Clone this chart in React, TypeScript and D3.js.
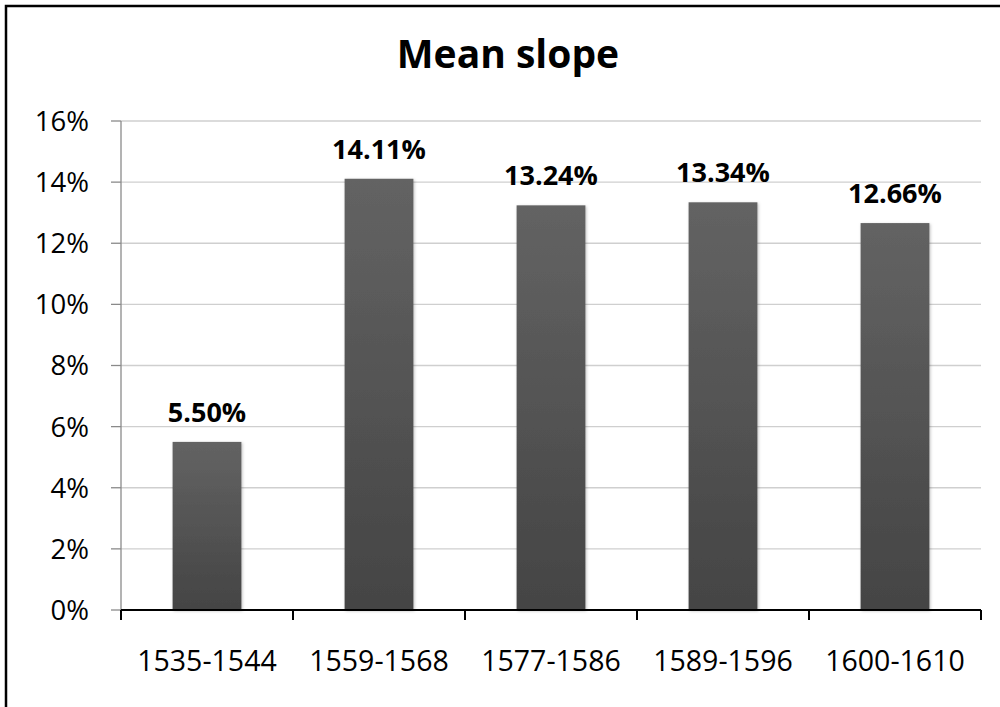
import React from "react";
import * as d3 from "d3";

const categories = ["1535-1544", "1559-1568", "1577-1586", "1589-1596", "1600-1610"];
const values = [5.5, 14.11, 13.24, 13.34, 12.66];
const yTicks = [0, 2, 4, 6, 8, 10, 12, 14, 16];
const title = "Mean slope";

const W = 1000;
const H = 707;
const M = { left: 121, right: 981, top: 121, bottom: 610 };
const FONT = "'Open Sans', 'DejaVu Sans', sans-serif";

export default function App() {
  const x = d3
    .scaleBand<string>()
    .domain(categories)
    .range([M.left, M.right])
    .paddingInner(0.6)
    .paddingOuter(0.3);
  const y = d3.scaleLinear().domain([0, 16]).range([M.bottom, M.top]);
  const boundaries = d3.range(categories.length + 1).map((i) => M.left + i * (M.right - M.left) / categories.length);

  return (
    <svg
      width={W}
      height={H}
      viewBox={`0 0 ${W} ${H}`}
      style={{ position: "absolute", left: 0, top: 0, background: "#fff" }}
    >
      <defs>
        <linearGradient id="barGrad" x1="0" y1="0" x2="0" y2="1">
          <stop offset="0%" stopColor="#636363" />
          <stop offset="100%" stopColor="#444444" />
        </linearGradient>
        <filter id="shadow" x="-20%" y="-5%" width="140%" height="110%">
          <feDropShadow dx="1" dy="1" stdDeviation="1.5" floodColor="#000" floodOpacity="0.25" />
        </filter>
      </defs>
      <rect x={0} y={0} width={W} height={H} fill="#fff" />
      <rect x={6} y={6} width={1200} height={900} fill="none" stroke="#000" strokeWidth={2.5} />

      <text
        x={508}
        y={68}
        textAnchor="middle"
        fontFamily={FONT}
        fontWeight="bold"
        fontSize={39}
        fill="#000"
      >
        {title}
      </text>

      {/* gridlines */}
      {yTicks.filter((t) => t > 0).map((t) => (
        <line key={`g${t}`} x1={M.left} x2={M.right} y1={y(t)} y2={y(t)} stroke="#cfcfcf" strokeWidth={1.3} />
      ))}

      {/* y axis */}
      <line x1={M.left} x2={M.left} y1={M.top} y2={M.bottom} stroke="#8a8a8a" strokeWidth={1.3} />
      {yTicks.map((t) => (
        <g key={`yt${t}`}>
          <line x1={M.left - 10} x2={M.left} y1={y(t)} y2={y(t)} stroke="#8a8a8a" strokeWidth={1.3} />
          <text
            x={89}
            y={y(t)}
            dy="0.36em"
            textAnchor="end"
            fontFamily={FONT}
            fontSize={27.5}
            fill="#000"
          >
            {`${t}%`}
          </text>
        </g>
      ))}

      {/* bars */}
      {categories.map((c, i) => (
        <rect
          key={c}
          x={x(c)}
          y={y(values[i])}
          width={x.bandwidth()}
          height={y(0) - y(values[i])}
          fill="url(#barGrad)"
          filter="url(#shadow)"
        />
      ))}

      {/* x axis */}
      <line x1={M.left} x2={M.right} y1={M.bottom} y2={M.bottom} stroke="#000" strokeWidth={2} />
      {boundaries.map((bx, i) => (
        <line key={`xt${i}`} x1={bx} x2={bx} y1={M.bottom} y2={M.bottom + 10} stroke="#000" strokeWidth={2} />
      ))}
      {categories.map((c) => (
        <text
          key={`xl${c}`}
          x={(x(c) as number) + x.bandwidth() / 2}
          y={671}
          textAnchor="middle"
          fontFamily={FONT}
          fontSize={28.5}
          fill="#000"
        >
          {c}
        </text>
      ))}

      {/* data labels */}
      {categories.map((c, i) => (
        <text
          key={`dl${c}`}
          x={(x(c) as number) + x.bandwidth() / 2}
          y={y(values[i]) - 20}
          textAnchor="middle"
          fontFamily={FONT}
          fontWeight="bold"
          fontSize={27}
          fill="#000"
        >
          {`${values[i].toFixed(2)}%`}
        </text>
      ))}
    </svg>
  );
}
